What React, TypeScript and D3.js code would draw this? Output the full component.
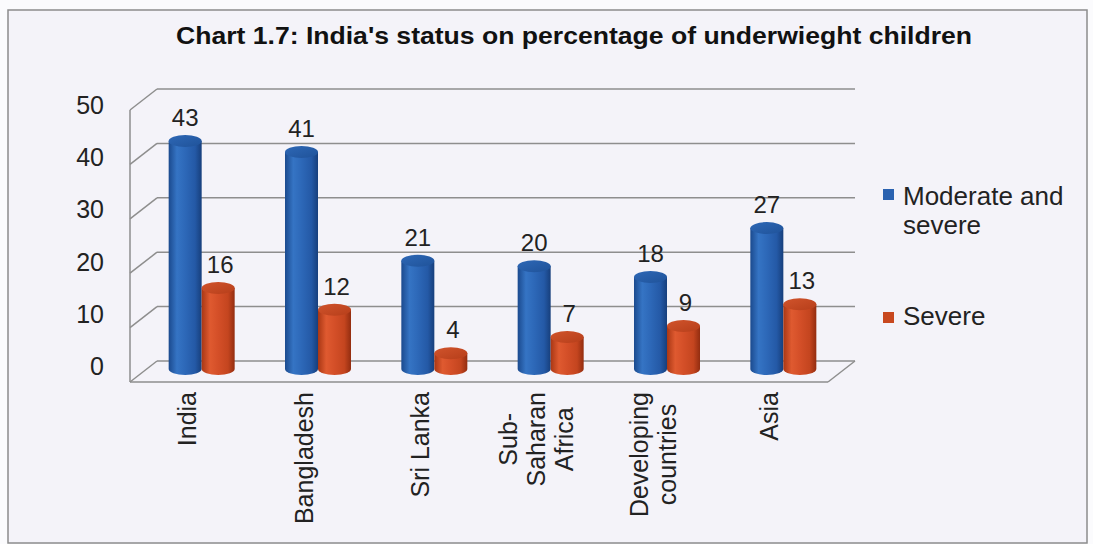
import React from "react";
import * as d3 from "d3";

const title = "Chart 1.7: India's status on percentage of underwieght children";
const categories = ["India", "Bangladesh", "Sri Lanka", "Sub-Saharan Africa", "Developing countries", "Asia"];
const categoryLines = [["India"], ["Bangladesh"], ["Sri Lanka"], ["Sub-", "Saharan", "Africa"], ["Developing", "countries"], ["Asia"]];
const moderateSevere = [43, 41, 21, 20, 18, 27];
const severe = [16, 12, 4, 7, 9, 13];
const yTicks = [0, 10, 20, 30, 40, 50];
const seriesNames = [["Moderate and", "severe"], ["Severe"]];

const W = 1093;
const H = 544;
const FONT = "'Liberation Sans', Arial, Helvetica, sans-serif";

let ctx: CanvasRenderingContext2D | null = null;
function measure(text: string, size: number) {
  if (!ctx) ctx = document.createElement("canvas").getContext("2d");
  if (!ctx) return text.length * size * 0.55;
  ctx.font = `${size}px ${FONT}`;
  return ctx.measureText(text).width;
}

export default function App() {
  const frontX0 = 130;
  const frontX1 = 828;
  const dx = 27;
  const dy = -21;
  const x = d3.scaleBand<string>().domain(categories).range([frontX0, frontX1]).padding(0);
  const yFront = d3.scaleLinear().domain([0, 50]).range([382, 110]);
  const yBack = (v: number) => yFront(v) + dy;
  const yBarTop = d3.scaleLinear().domain([0, 50]).range([375, 375 - 272]);
  const yLabel = d3.scaleLinear().domain([0, 50]).range([375, 114]);
  const barBottom = 369;
  const barW = 33;
  const r = barW / 2;
  const ry = 6;

  const cylinder = (cx: number, v: number, kind: "b" | "r", key: string) => {
    const yt = yBarTop(v);
    const body = `M${cx - r},${yt} L${cx - r},${barBottom} A${r},${ry} 0 0 0 ${cx + r},${barBottom} L${cx + r},${yt} Z`;
    return (
      <g key={key}>
        <path d={body} fill={`url(#body-${kind})`} />
        <ellipse cx={cx} cy={yt} rx={r} ry={ry} fill={`url(#top-${kind})`} />
      </g>
    );
  };

  const bands = categories.map((c) => (x(c) as number) + x.bandwidth() / 2);

  return (
    <svg width={W} height={H} style={{ position: "absolute", left: 0, top: 0, fontFamily: FONT }}>
      <defs>
        <linearGradient id="body-b" x1="0" x2="1" y1="0" y2="0">
          <stop offset="0" stopColor="#1b4a8e" />
          <stop offset="0.25" stopColor="#3574c4" />
          <stop offset="0.5" stopColor="#2d68b8" />
          <stop offset="0.8" stopColor="#2459a6" />
          <stop offset="1" stopColor="#173f7c" />
        </linearGradient>
        <linearGradient id="top-b" x1="0" x2="1" y1="0" y2="1">
          <stop offset="0" stopColor="#2e68b6" />
          <stop offset="1" stopColor="#1f5299" />
        </linearGradient>
        <linearGradient id="body-r" x1="0" x2="1" y1="0" y2="0">
          <stop offset="0" stopColor="#a93714" />
          <stop offset="0.25" stopColor="#df5a30" />
          <stop offset="0.5" stopColor="#d44f28" />
          <stop offset="0.8" stopColor="#c4451f" />
          <stop offset="1" stopColor="#932d10" />
        </linearGradient>
        <linearGradient id="top-r" x1="0" x2="1" y1="0" y2="1">
          <stop offset="0" stopColor="#d1542c" />
          <stop offset="1" stopColor="#b63e1a" />
        </linearGradient>
      </defs>
      <rect x={0} y={0} width={W} height={H} fill="#fbfbfd" />
      <rect x={8} y={10} width={1079} height={533} fill="#f4f3f9" stroke="#8c8c8c" strokeWidth={1.5} />

      <text x={574} y={44} textAnchor="middle" fontWeight="bold" fontSize={23} fill="#111"
        textLength={796} lengthAdjust="spacingAndGlyphs">
        {title}
      </text>

      {/* walls and gridlines */}
      <g stroke="#8e8e8e" strokeWidth={1.5} fill="none">
        {yTicks.map((t) => (
          <g key={t}>
            <line x1={frontX0 + dx} x2={frontX1 + dx} y1={yBack(t)} y2={yBack(t)} />
            <line x1={frontX0} x2={frontX0 + dx} y1={yFront(t)} y2={yBack(t)} />
          </g>
        ))}
        <line x1={frontX0} x2={frontX0} y1={yFront(50)} y2={yFront(0)} />
        <line x1={frontX0} x2={frontX1} y1={yFront(0)} y2={yFront(0)} />
        <line x1={frontX1} x2={frontX1 + dx} y1={yFront(0)} y2={yBack(0)} />
      </g>

      {/* y tick labels */}
      {yTicks.map((t) => (
        <text key={t} x={104} y={yLabel(t)} textAnchor="end" fontSize={25} fill="#222">
          {t}
        </text>
      ))}

      {/* bars */}
      {categories.map((c, i) => {
        const mid = bands[i] + dx / 2;
        return (
          <g key={c}>
            {cylinder(mid - r, moderateSevere[i], "b", "b" + i)}
            {cylinder(mid + r, severe[i], "r", "r" + i)}
          </g>
        );
      })}

      {/* data labels */}
      {categories.map((c, i) => {
        const mid = bands[i] + dx / 2;
        return (
          <g key={c} fontSize={24} fill="#222" textAnchor="middle">
            <text x={mid - r} y={yBarTop(moderateSevere[i]) - ry - 9}>{moderateSevere[i]}</text>
            <text x={mid + r + 2} y={yBarTop(severe[i]) - ry - 9}>{severe[i]}</text>
          </g>
        );
      })}

      {/* category labels */}
      {categoryLines.map((lines, i) => {
        const lh = 28;
        const fs = 25;
        const maxLen = Math.max(...lines.map((l) => measure(l, fs)));
        const cy = 392 + maxLen / 2;
        return (
          <g key={i} fontSize={fs} fill="#222" textAnchor="middle">
            {lines.map((l, j) => {
              const cx = bands[i] + (j - (lines.length - 1) / 2) * lh + 8;
              return (
                <text key={j} transform={`translate(${cx},${cy}) rotate(-90)`}>
                  {l}
                </text>
              );
            })}
          </g>
        );
      })}

      {/* legend */}
      <rect x={883} y={189} width={11} height={11} fill="#2a62b0" />
      <text x={903} y={205} fontSize={26} fill="#222">{seriesNames[0][0]}</text>
      <text x={903} y={234} fontSize={26} fill="#222">{seriesNames[0][1]}</text>
      <rect x={883} y={312} width={11} height={11} fill="#c8481f" />
      <text x={903} y={325} fontSize={26} fill="#222">{seriesNames[1][0]}</text>
    </svg>
  );
}
